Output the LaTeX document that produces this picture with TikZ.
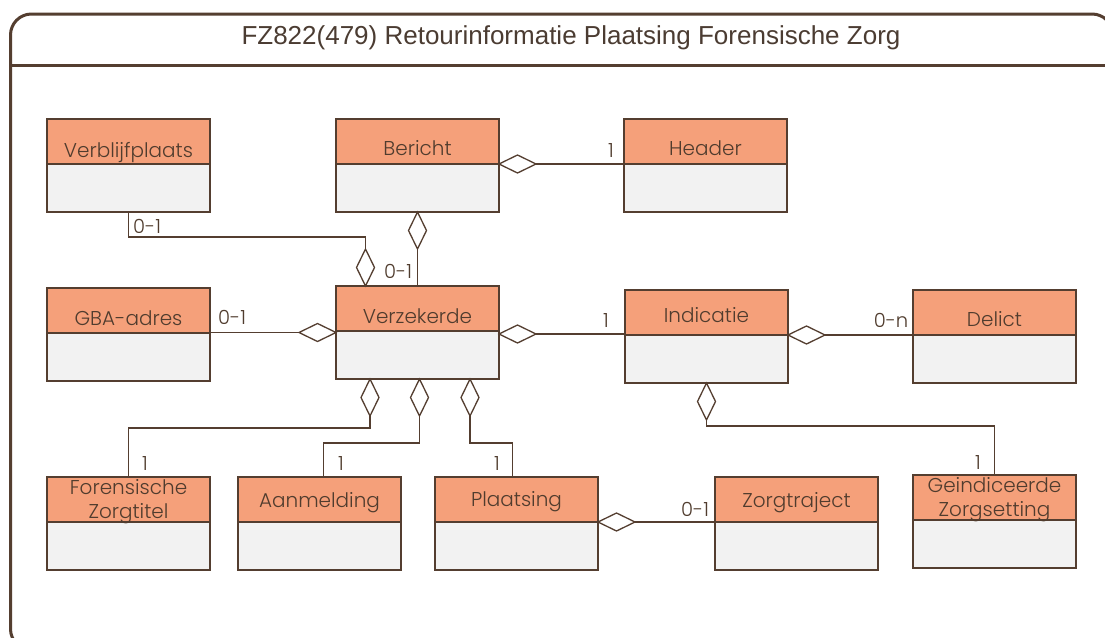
\documentclass[tikz,border=0pt]{standalone}
\usepackage{fontspec}
\setmainfont{Poppins Light}
\newfontfamily\titlefont{Liberation Sans}
\usetikzlibrary{shapes.geometric,calc}
\definecolor{ln}{RGB}{84,62,48}
\definecolor{hdrfill}{RGB}{245,160,122}
\definecolor{bodyfill}{RGB}{242,242,242}
\definecolor{txt}{RGB}{80,60,46}
\definecolor{titlec}{RGB}{75,60,50}
\begin{document}
\begin{tikzpicture}[x=1pt,y=-1pt,
  hdr/.style={draw=ln,fill=hdrfill,line width=1.4pt,minimum width=163pt,minimum height=45pt,anchor=north west,inner sep=0pt,outer sep=0pt},
  bdy/.style={draw=ln,fill=bodyfill,line width=1.4pt,minimum width=163pt,minimum height=48pt,anchor=north west,inner sep=0pt,outer sep=0pt},
  nm/.style={text=txt,font=\fontsize{20}{22}\selectfont,anchor=base,inner sep=0pt},
  lab/.style={text=txt,font=\fontsize{19.5}{20}\selectfont,inner sep=0pt},
  conn/.style={draw=ln,line width=1.3pt},
  dmh/.style={diamond,draw=ln,fill=white,line width=1.3pt,minimum width=37pt,minimum height=18pt,inner sep=0pt,outer sep=0pt},
  dmv/.style={diamond,draw=ln,fill=white,line width=1.3pt,minimum width=18pt,minimum height=37pt,inner sep=0pt,outer sep=0pt},
  frame/.style={draw=ln,line width=3pt}]
\useasboundingbox (0,0) rectangle (1105,637);
\clip (0,0) rectangle (1105,637);
\fill[white] (0,0) rectangle (1105,637);
% frame
\draw[frame,rounded corners=21pt] (10.5,14) rectangle (1113,650);
\draw[frame] (10.5,65) -- (1113,65);
\node[text=titlec,font=\titlefont\fontsize{26}{30}\selectfont,anchor=base,inner sep=0pt] (title) at (571,44.3) {FZ822(479) Retourinformatie Plaatsing Forensische Zorg};
% classes
\node[hdr] (ver) at (47,119) {};
\node[bdy] (verb) at (ver.south west) {};
\node[nm] (vert) at ($(ver.south)+(0,-7)$) {Verblijfplaats};
\node[hdr] (ber) at (336,119) {};
\node[bdy] (berb) at (ber.south west) {};
\node[nm] (bert) at ($(ber.south)+(0,-9)$) {Bericht};
\node[hdr] (hea) at (624,119) {};
\node[bdy] (heab) at (hea.south west) {};
\node[nm] (heat) at ($(hea.south)+(0,-9)$) {Header};
\node[hdr] (gba) at (47,288) {};
\node[bdy] (gbab) at (gba.south west) {};
\node[nm] (gbat) at ($(gba.south)+(0,-8)$) {GBA-adres};
\node[hdr] (verz) at (336,286) {};
\node[bdy] (verzb) at (verz.south west) {};
\node[nm] (verzt) at ($(verz.south)+(0,-7.4)$) {Verzekerde};
\node[hdr] (ind) at (625,290) {};
\node[bdy] (indb) at (ind.south west) {};
\node[nm] (indt) at ($(ind.south)+(0,-12.5)$) {Indicatie};
\node[hdr] (del) at (913,290) {};
\node[bdy] (delb) at (del.south west) {};
\node[nm] (delt) at ($(del.south)+(0,-9)$) {Delict};
\node[hdr] (for) at (47,477) {};
\node[bdy] (forb) at (for.south west) {};
\node[nm] (fort1) at ($(for.south)+(0,-28)$) {Forensische};
\node[nm] (fort2) at ($(for.south)+(0,-4)$) {Zorgtitel};
\node[hdr] (aan) at (238,477) {};
\node[bdy] (aanb) at (aan.south west) {};
\node[nm] (aant) at ($(aan.south)+(0,-15)$) {Aanmelding};
\node[hdr] (pla) at (435,477) {};
\node[bdy] (plab) at (pla.south west) {};
\node[nm] (plat) at ($(pla.south)+(0,-16)$) {Plaatsing};
\node[hdr] (zor) at (715,477) {};
\node[bdy] (zorb) at (zor.south west) {};
\node[nm] (zort) at ($(zor.south)+(0,-15)$) {Zorgtraject};
\node[hdr] (gei) at (913,475) {};
\node[bdy] (geib) at (gei.south west) {};
\node[nm] (geit1) at ($(gei.south)+(0,-28)$) {Geindiceerde};
\node[nm] (geit2) at ($(gei.south)+(0,-3.7)$) {Zorgsetting};
% connectors
\node[dmh,anchor=west] (d1) at (ber.south east) {};
\draw[conn] (d1.east) -- (hea.south west);
\node[lab,anchor=base east] (l1) at (614,157) {1};
\node[dmv,anchor=north] (d2) at (berb.south) {};
\draw[conn] (d2.south) -- (d2.south |- verz.north);
\node[lab,anchor=base west] (l2) at (384,278) {0-1};
\node[dmv,anchor=south] (d3) at ($(verz.north west)+(29.5,0)$) {};
\draw[conn] (verb.south) -- ++(0,25) -| (d3.north);
\node[lab,anchor=base west] (l3) at (133,233) {0-1};
\node[dmh,anchor=east] (d4) at ($(verz.south west)+(0,1.5)$) {};
\draw[conn] (d4.west) -- (d4.west -| gba.east);
\node[lab,anchor=base west] (l4) at (218,324) {0-1};
\node[dmh,anchor=west] (d5) at ($(verz.south east)+(0,3)$) {};
\draw[conn] (d5.east) -- (d5.east -| ind.west);
\node[lab,anchor=base east] (l5) at (609,327) {1};
\node[dmh,anchor=west] (d6) at (ind.south east) {};
\draw[conn] (d6.east) -- (d6.east -| del.west);
\node[lab,anchor=base east] (l6) at (908.5,327) {0-n};
\node[dmv,anchor=north] (d7) at (indb.south) {};
\draw[conn] (d7.south) -- ++(0,6) -| (gei.north);
\node[lab,anchor=base east] (l7) at (981,469) {1};
\node[dmv,anchor=north] (d8) at ($(verzb.south west)+(34,0)$) {};
\draw[conn] (d8.south) -- ++(0,12) -| (for.north);
\node[lab,anchor=base east] (l8) at (148,470) {1};
\node[dmv,anchor=north] (d9) at ($(verzb.south)+(2,0)$) {};
\draw[conn] (d9.south) -- ++(0,27) -| ($(aan.north)+(4,0)$);
\node[lab,anchor=base east] (l9) at (344,470) {1};
\node[dmv,anchor=north] (d10) at ($(verzb.south east)+(-29,0)$) {};
\draw[conn] (d10.south) -- ++(0,27) -| ($(pla.north)+(-4,0)$);
\node[lab,anchor=base east] (l10) at (500,470) {1};
\node[dmh,anchor=west] (d11) at (pla.south east) {};
\draw[conn] (d11.east) -- (zor.south west);
\node[lab,anchor=base west] (l11) at (681,516) {0-1};
\end{tikzpicture}
\end{document}
